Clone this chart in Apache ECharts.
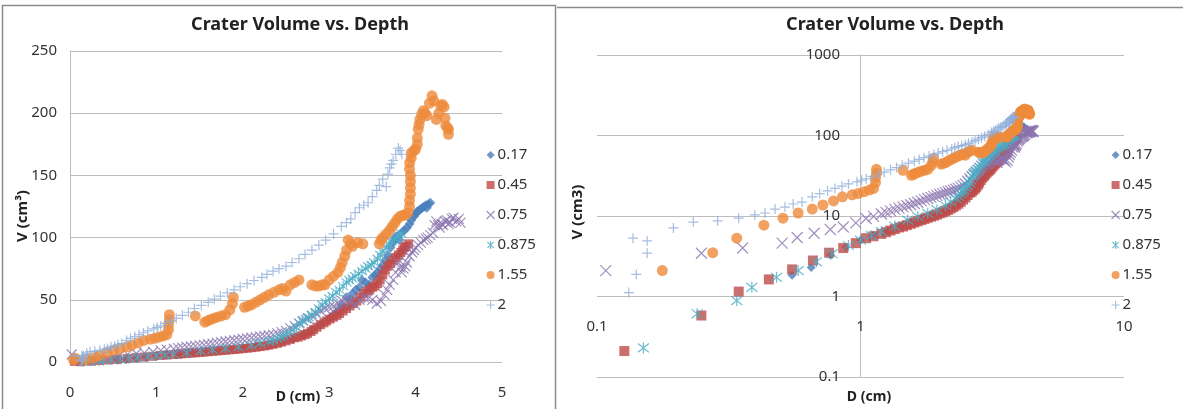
<!DOCTYPE html>
<html>
<head>
<meta charset="utf-8">
<script src="https://cdn.jsdelivr.net/npm/echarts@6/dist/echarts.min.js"></script>
<style>
html, body { margin: 0; padding: 0; background: #fff; }
#main { width: 1183px; height: 409px; }
</style>
</head>
<body>
<div id="main"></div>
<script>
// legend names (impact velocity groups)
var names = ['0.17', '0.45', '0.75', '0.875', '1.55', '2'];

// [D (cm), V (cm3)]
var d017 = [[0.55,1.83],[0.65,2.3],[0.77,3.25],[0.88,4.1],[1.0,5.0],[1.12,5.8],[1.25,6.6],[1.4,7.5],[1.55,8.3],[1.7,9.2],[1.85,10.2],[2.0,11.2],[2.15,12.4],[2.3,14],[2.45,16],[2.58,18.5],[2.7,22],[2.8,26],[2.9,30],[3.0,35],[3.05,38],[3.08,40],[3.12,43],[3.15,46],[3.2,52],[3.24,50],[3.27,55],[3.31,58],[3.35,60],[3.38,66],[3.42,64],[3.46,62],[3.5,68],[3.53,70],[3.56,72],[3.59,75],[3.62,78],[3.65,82],[3.68,86],[3.71,92],[3.74,96],[3.76,99],[3.78,101],[3.81,98],[3.84,104],[3.87,106],[3.9,108],[3.93,111],[3.95,114],[3.98,117],[4.0,119],[4.02,121],[4.04,122],[4.06,123],[4.08,124],[4.1,125],[4.12,126],[4.15,127],[4.17,128],[4.13,124]];
var d045 = [[0.05,0.5],[0.127,0.21],[0.249,0.58],[0.345,1.15],[0.449,1.63],[0.55,2.17],[0.66,2.8],[0.76,3.5],[0.86,4.0],[0.96,4.6],[1.05,5.3],[1.12,5.6],[1.2,6.0],[1.25,6.3],[1.3,6.6],[1.35,6.9],[1.4,7.2],[1.45,7.4],[1.5,7.7],[1.55,8.0],[1.6,8.3],[1.65,8.6],[1.7,8.9],[1.75,9.2],[1.8,9.5],[1.85,9.8],[1.9,10.1],[1.95,10.4],[2.0,10.8],[2.05,11.1],[2.1,11.5],[2.15,11.9],[2.2,12.4],[2.25,12.9],[2.3,13.5],[2.35,14.2],[2.4,15],[2.45,16],[2.5,17],[2.55,18.2],[2.6,19.5],[2.64,20],[2.68,21],[2.72,22],[2.75,23],[2.79,24.5],[2.82,26],[2.86,28],[2.9,30],[2.94,31.5],[2.97,33],[3.01,34.5],[3.05,36],[3.09,37.5],[3.12,39],[3.16,41],[3.2,43],[3.24,45],[3.28,47],[3.32,49],[3.36,52],[3.4,55],[3.44,57],[3.47,58],[3.5,60],[3.53,61],[3.56,63],[3.59,66],[3.62,70],[3.65,74],[3.68,77],[3.71,79],[3.74,82],[3.77,84],[3.8,86],[3.83,88],[3.85,90],[3.87,92],[3.89,93],[3.92,95]];
var d075 = [[0.02,6],[0.108,2.1],[0.249,3.45],[0.357,4.0],[0.504,4.6],[0.575,5.4],[0.667,6.1],[0.768,6.8],[0.86,7.3],[0.96,8.2],[1.05,9.3],[1.12,9.9],[1.2,10.6],[1.25,11.1],[1.3,11.6],[1.35,12.1],[1.4,12.5],[1.45,13],[1.5,13.4],[1.55,13.8],[1.6,14.3],[1.65,14.8],[1.7,15.4],[1.75,16],[1.8,16.5],[1.85,17],[1.9,17.5],[1.95,18],[2.0,18.5],[2.05,19],[2.1,19.5],[2.15,20],[2.2,20.5],[2.25,21],[2.3,21.5],[2.35,22],[2.4,23],[2.45,24],[2.5,25],[2.55,27],[2.6,29],[2.65,31],[2.7,33],[2.75,35],[2.8,37],[2.85,39],[2.9,41],[2.95,43],[3.0,44],[3.05,45],[3.1,47],[3.15,49],[3.2,50],[3.25,48],[3.3,46],[3.35,50],[3.4,52],[3.45,51],[3.5,50],[3.55,47],[3.6,49],[3.64,54],[3.67,58],[3.7,62],[3.74,66],[3.77,72],[3.8,80],[3.82,76],[3.84,72],[3.86,75],[3.88,77],[3.9,80],[3.93,85],[3.96,88],[3.98,90],[4.0,92],[4.03,94],[4.06,96],[4.09,98],[4.12,99],[4.14,100],[4.17,102],[4.2,104],[4.22,110],[4.24,113],[4.26,110],[4.28,108],[4.3,111],[4.32,110],[4.34,113],[4.36,114],[4.38,111],[4.4,112],[4.42,115],[4.44,116],[4.47,113],[4.5,115],[4.52,112]];
var d0875 = [[0.15,0.23],[0.24,0.61],[0.339,0.89],[0.387,1.3],[0.48,1.73],[0.58,2.1],[0.68,2.7],[0.78,3.4],[0.9,4.3],[1.0,5.0],[1.1,5.7],[1.2,6.4],[1.35,7.5],[1.51,8.9],[1.65,9.8],[1.8,10.8],[1.95,12],[2.1,13.5],[2.2,15],[2.3,16.5],[2.35,17.5],[2.4,19],[2.44,20],[2.47,21],[2.51,22.5],[2.55,24],[2.59,26],[2.62,28],[2.66,31],[2.69,33],[2.73,34.5],[2.76,36],[2.8,38],[2.84,40],[2.88,43],[2.92,46],[2.96,48],[3.0,51],[3.04,53],[3.08,56],[3.12,58],[3.16,61],[3.2,64],[3.23,66],[3.27,67],[3.3,69],[3.34,71],[3.38,73],[3.42,75],[3.45,77],[3.49,78],[3.52,80],[3.56,83],[3.59,86],[3.62,89],[3.66,92],[3.69,95],[3.72,97],[3.75,99],[3.78,100],[3.81,101],[3.84,103]];
var d155 = [[0.04,2],[0.06,3],[0.177,2.1],[0.275,3.5],[0.339,5.3],[0.43,7.7],[0.508,9.4],[0.58,10.9],[0.656,12.2],[0.72,13.7],[0.79,15.4],[0.854,17.3],[0.93,18.3],[0.98,19],[1.03,20],[1.08,21],[1.12,22],[1.14,26],[1.14,30],[1.15,34],[1.15,38],[1.45,37],[1.56,32],[1.59,33],[1.62,34],[1.66,35],[1.7,36],[1.75,37],[1.8,38],[1.85,42],[1.88,47],[1.89,52],[2.02,44],[2.06,45],[2.1,46],[2.15,48],[2.2,50],[2.25,52],[2.3,54],[2.36,56],[2.42,58],[2.46,59],[2.5,57],[2.55,62],[2.6,64],[2.65,66],[2.8,62],[2.84,61],[2.88,61],[2.92,62],[2.95,62],[3.0,66],[3.05,69],[3.1,72],[3.13,76],[3.15,80],[3.18,85],[3.2,90],[3.22,98],[3.25,95],[3.27,93],[3.33,96],[3.39,95],[3.58,95],[3.6,98],[3.62,100],[3.66,103],[3.7,106],[3.73,109],[3.76,112],[3.79,115],[3.82,117],[3.85,118],[3.88,118],[3.91,120],[3.93,125],[3.93,130],[3.94,135],[3.94,140],[3.94,145],[3.94,150],[3.93,155],[3.93,160],[3.95,164],[3.95,168],[3.98,170],[4.0,171],[4.02,175],[4.02,180],[4.03,187],[4.04,191],[4.05,195],[4.07,199],[4.09,202],[4.11,200],[4.13,198],[4.16,208],[4.19,214],[4.21,210],[4.24,195],[4.27,200],[4.29,206],[4.31,207],[4.33,205],[4.34,196],[4.35,190],[4.37,188],[4.38,187],[4.38,183]];
var d2 = [[0.05,5],[0.132,1.12],[0.141,1.88],[0.137,5.3],[0.155,4.9],[0.155,3.45],[0.195,7.1],[0.232,8.4],[0.287,8.7],[0.345,9.4],[0.397,10.3],[0.434,10.9],[0.474,12.2],[0.517,12.9],[0.555,14.1],[0.6,14.9],[0.656,17.3],[0.7,19],[0.75,20.5],[0.8,22],[0.85,23.5],[0.9,25],[0.97,26.6],[1.01,27.8],[1.05,29],[1.11,31],[1.17,33],[1.23,35],[1.3,37.5],[1.37,40],[1.44,43],[1.52,45.5],[1.6,48],[1.67,50.5],[1.74,53],[1.82,55.5],[1.9,58],[1.97,60.5],[2.05,63],[2.13,65.5],[2.22,68],[2.28,70.5],[2.35,73],[2.42,75],[2.5,77],[2.57,80],[2.65,83],[2.72,86.5],[2.8,90],[2.88,94],[2.96,98],[3.05,103],[3.14,109],[3.2,112],[3.25,115],[3.3,120],[3.35,124],[3.4,126],[3.45,128],[3.5,133],[3.55,138],[3.58,142],[3.62,147],[3.66,141],[3.68,151],[3.7,156],[3.72,159],[3.74,162],[3.77,167],[3.8,172],[3.82,170],[3.84,167]];

var allData = [d017, d045, d075, d0875, d155, d2];

// marker look per series
var xPath = 'path://M0,0L10,10M10,0L0,10';
var plusPath = 'path://M5,0L5,10M0,5L10,5';
var starPath = 'path://M1,1L9,9M9,1L1,9M5,0L5,10';
var marks = [
    {symbol: 'diamond', color: '#4A7EBB', line: false, size: [10, 9]},
    {symbol: 'rect', color: '#BE4B48', line: false, size: [9, 10]},
    {symbol: xPath, color: '#8A74AE', line: true, size: [10, 11]},
    {symbol: starPath, color: '#4BACC6', line: true, size: [10, 11]},
    {symbol: 'circle', color: '#EE8B3C', line: false, size: [11, 11]},
    {symbol: plusPath, color: '#8FAEDA', line: true, size: [10, 10]}
];

function styleOf(m) {
    if (m.line) {
        return {color: 'rgba(0,0,0,0)', borderColor: m.color, borderWidth: 1.2};
    }
    return {color: m.color};
}

var series = [];
[0, 1].forEach(function (g) {
    allData.forEach(function (d, i) {
        series.push({
            name: names[i],
            type: 'scatter',
            xAxisIndex: g,
            yAxisIndex: g,
            symbol: marks[i].symbol,
            symbolSize: marks[i].size[g],
            itemStyle: styleOf(marks[i]),
            data: d,
            animation: false,
            emphasis: {disabled: true}
        });
    });
});

var font = 'Noto Sans';
function legendOf(left) {
    return {
        orient: 'vertical',
        left: left,
        top: 142,
        itemWidth: 8,
        itemHeight: 8,
        itemGap: 14,
        textStyle: {fontFamily: font, fontSize: 15, color: '#333', lineHeight: 16, padding: [0, 0, 0, -2]},
        data: names.map(function (n, i) {
            return {name: n, icon: marks[i].symbol, itemStyle: styleOf(marks[i])};
        })
    };
}

var gridLine = {lineStyle: {color: '#BDBDBD', width: 1}};
var tickLabel = {fontFamily: font, fontSize: 15, color: '#333'};

var myChart = echarts.init(document.getElementById('main'));
var option = {
    backgroundColor: '#fff',
    animation: false,
    grid: [
        {left: 70, top: 51, width: 432, height: 311},
        {left: 597, top: 55, width: 527, height: 322}
    ],
    xAxis: [
        {
            gridIndex: 0, type: 'value', min: 0, max: 5, interval: 1,
            axisLine: {show: false}, axisTick: {show: false}, splitLine: {show: false},
            axisLabel: Object.assign({margin: 23}, tickLabel)
        },
        {
            gridIndex: 1, type: 'log', logBase: 10, min: 0.1, max: 10,
            offset: -66,
            axisLine: {show: false}, axisTick: {show: false}, splitLine: {show: false},
            axisLabel: Object.assign({margin: 8}, tickLabel)
        }
    ],
    yAxis: [
        {
            gridIndex: 0, type: 'value', min: 0, max: 250, interval: 50,
            axisLine: {show: true, lineStyle: {color: '#BDBDBD'}}, axisTick: {show: false},
            splitLine: gridLine,
            axisLabel: Object.assign({margin: 13}, tickLabel)
        },
        {
            gridIndex: 1, type: 'log', logBase: 10, min: 0.1, max: 1000,
            offset: -263,
            axisLine: {show: true, lineStyle: {color: '#BDBDBD'}}, axisTick: {show: false},
            splitLine: gridLine,
            axisLabel: Object.assign({margin: 20, formatter: function (v) { return String(v); }}, tickLabel)
        }
    ],
    legend: [legendOf(481), legendOf(1106)],
    graphic: [
        {type: 'rect', shape: {x: 2.5, y: 5.5, width: 553, height: 420}, style: {fill: 'none', stroke: '#8A8A8A', lineWidth: 1.5}, z: -1},
        {type: 'line', shape: {x1: 557, y1: 7.5, x2: 1183, y2: 7.5}, style: {stroke: '#8A8A8A', lineWidth: 1.5}, z: -1},
        {type: 'text', x: 300, y: 25, style: {text: 'Crater Volume vs. Depth', font: 'bold 18px "Noto Sans"', fill: '#222', align: 'center', verticalAlign: 'middle'}},
        {type: 'text', x: 895, y: 25, style: {text: 'Crater Volume vs. Depth', font: 'bold 18px "Noto Sans"', fill: '#222', align: 'center', verticalAlign: 'middle'}},
        {type: 'text', x: 298, y: 397, style: {text: 'D (cm)', font: 'bold 14px "Noto Sans"', fill: '#222', align: 'center', verticalAlign: 'middle'}},
        {type: 'text', x: 869, y: 397, style: {text: 'D (cm)', font: 'bold 14px "Noto Sans"', fill: '#222', align: 'center', verticalAlign: 'middle'}},
        {type: 'text', x: 23, y: 216, rotation: Math.PI / 2, style: {text: 'V (cm³)', font: 'bold 15px "Noto Sans"', fill: '#222', align: 'center', verticalAlign: 'middle'}},
        {type: 'text', x: 578, y: 212, rotation: Math.PI / 2, style: {text: 'V (cm3)', font: 'bold 15px "Noto Sans"', fill: '#222', align: 'center', verticalAlign: 'middle'}}
    ],
    series: series
};
myChart.setOption(option);
</script>
</body>
</html>
